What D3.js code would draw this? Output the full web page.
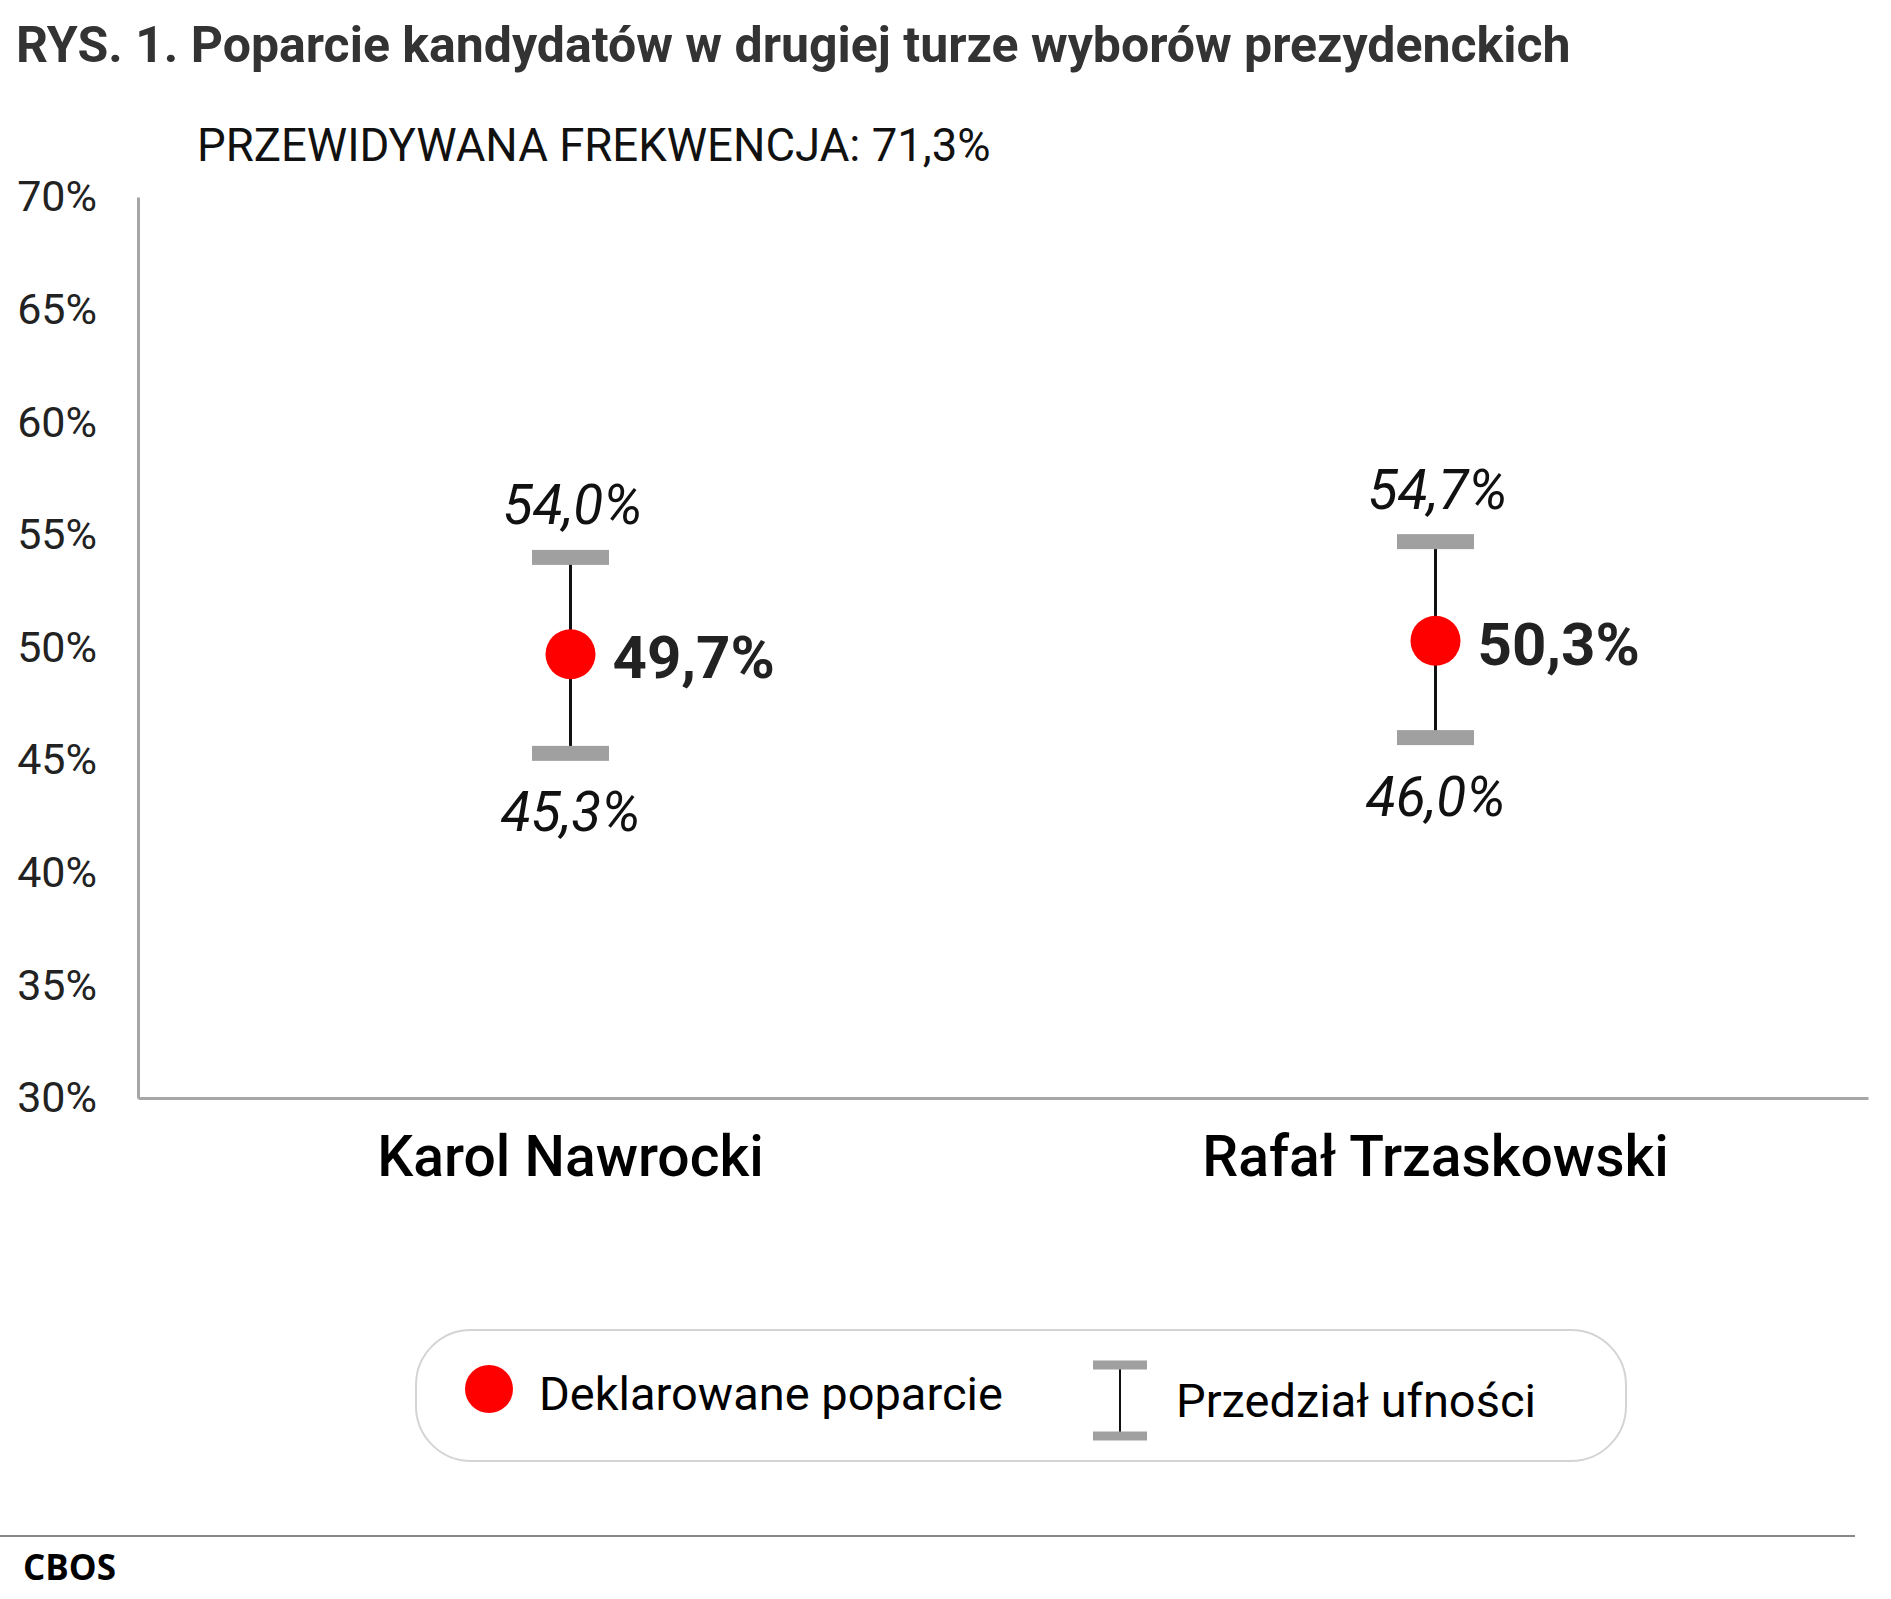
<!DOCTYPE html>
<html>
<head>
<meta charset="utf-8">
<script src="https://cdn.jsdelivr.net/npm/d3@7"></script>
<style>
  body { margin: 0; background: #fff; }
  text { font-family: Roboto, "Noto Sans", sans-serif; }
</style>
</head>
<body>
<div id="chart"></div>
<script>
// data
const candidates = ["Karol Nawrocki", "Rafał Trzaskowski"];
const support = [49.7, 50.3];
const lower = [45.3, 46.0];
const upper = [54.0, 54.7];
const yTicks = [30, 35, 40, 45, 50, 55, 60, 65, 70];
const legendLabels = ["Deklarowane poparcie", "Przedział ufności"];

const title = "RYS. 1. Poparcie kandydatów w drugiej turze wyborów prezydenckich";
const subtitle = "PRZEWIDYWANA FREKWENCJA: 71,3%";
const source = "CBOS";

const width = 1891;
const height = 1599;

const fmt = (v) => v.toFixed(1).replace(".", ",") + "%";

const svg = d3
  .select("#chart")
  .append("svg")
  .attr("width", width)
  .attr("height", height);

svg.append("rect").attr("width", width).attr("height", height).attr("fill", "#fff");

const margin = { left: 138, right: 23, top: 197, bottom: 501 };

const x = d3
  .scaleBand()
  .domain(candidates)
  .range([margin.left, width - margin.right]);

const y = d3
  .scaleLinear()
  .domain([30, 70])
  .range([height - margin.bottom, margin.top]);

// title + subtitle
svg
  .append("text")
  .attr("x", 16)
  .attr("y", 62)
  .attr("fill", "#333")
  .style("font-size", "50px")
  .style("font-weight", 700)
  .text(title);

svg
  .append("text")
  .attr("x", 197)
  .attr("y", 161)
  .attr("fill", "#111")
  .style("font-size", "45.5px")
  .text(subtitle);

// y axis: line + labels, no tick marks
const yAxis = svg
  .append("g")
  .attr("transform", `translate(${margin.left},0)`)
  .call(
    d3
      .axisLeft(y)
      .tickValues(yTicks)
      .tickSize(0)
      .tickPadding(41)
      .tickFormat((d) => d + "%")
  );
yAxis.select(".domain").attr("stroke", "#a6a6a6").attr("stroke-width", 3);
yAxis
  .selectAll("text")
  .attr("fill", "#222")
  .attr("dy", "0.32em")
  .style("font-size", "43px")
  .style("font-family", "Roboto");

// x axis
const xAxis = svg
  .append("g")
  .attr("transform", `translate(0,${y(30)})`)
  .call(d3.axisBottom(x).tickSize(0).tickPadding(38));
xAxis.select(".domain").attr("stroke", "#a6a6a6").attr("stroke-width", 3);
xAxis
  .selectAll("text")
  .attr("fill", "#000")
  .attr("dy", "0.71em")
  .style("font-size", "57px")
  .style("font-weight", 500)
  .style("font-family", "Roboto");

// error bars
const rows = candidates.map((c, i) => ({
  name: c,
  value: support[i],
  lo: lower[i],
  hi: upper[i],
}));
const cx = (d) => x(d.name) + x.bandwidth() / 2;
const capW = 77;
const capH = 15;

const g = svg.append("g");

g.selectAll(".stem")
  .data(rows)
  .enter()
  .append("line")
  .attr("x1", cx)
  .attr("x2", cx)
  .attr("y1", (d) => y(d.hi))
  .attr("y2", (d) => y(d.lo))
  .attr("stroke", "#111")
  .attr("stroke-width", 3);

g.selectAll(".cap")
  .data(rows.flatMap((d) => [{ name: d.name, v: d.hi }, { name: d.name, v: d.lo }]))
  .enter()
  .append("rect")
  .attr("x", (d) => cx(d) - capW / 2)
  .attr("y", (d) => y(d.v) - capH / 2)
  .attr("width", capW)
  .attr("height", capH)
  .attr("fill", "#a0a0a0");

g.selectAll(".dot")
  .data(rows)
  .enter()
  .append("circle")
  .attr("cx", cx)
  .attr("cy", (d) => y(d.value))
  .attr("r", 25)
  .attr("fill", "#ff0000");

// value labels
g.selectAll(".hiLabel")
  .data(rows)
  .enter()
  .append("text")
  .attr("x", (d) => cx(d) + 2)
  .attr("y", (d) => y(d.hi) - 33)
  .attr("text-anchor", "middle")
  .attr("fill", "#111")
  .style("font-size", "55px")
  .style("font-style", "italic")
  .text((d) => fmt(d.hi));

g.selectAll(".loLabel")
  .data(rows)
  .enter()
  .append("text")
  .attr("x", (d) => cx(d))
  .attr("y", (d) => y(d.lo) + 78)
  .attr("text-anchor", "middle")
  .attr("fill", "#111")
  .style("font-size", "55px")
  .style("font-style", "italic")
  .text((d) => fmt(d.lo));

g.selectAll(".valLabel")
  .data(rows)
  .enter()
  .append("text")
  .attr("x", (d) => cx(d) + 42)
  .attr("y", (d) => y(d.value) + 24)
  .attr("fill", "#222")
  .style("font-size", "60px")
  .style("font-weight", 700)
  .text((d) => fmt(d.value));

// legend
const legend = svg.append("g");
legend
  .append("rect")
  .attr("x", 416)
  .attr("y", 1330)
  .attr("width", 1210)
  .attr("height", 131)
  .attr("rx", 55)
  .attr("ry", 55)
  .attr("fill", "#fff")
  .attr("stroke", "#d4d4d4")
  .attr("stroke-width", 2);

legend
  .append("circle")
  .attr("cx", 489)
  .attr("cy", 1389)
  .attr("r", 24)
  .attr("fill", "#ff0000");

legend
  .append("text")
  .attr("x", 539)
  .attr("y", 1410)
  .attr("fill", "#000")
  .style("font-size", "47px")
  .text(legendLabels[0]);

legend
  .append("line")
  .attr("x1", 1120)
  .attr("x2", 1120)
  .attr("y1", 1365)
  .attr("y2", 1436)
  .attr("stroke", "#111")
  .attr("stroke-width", 2);

legend
  .selectAll(".lcap")
  .data([1365, 1436])
  .enter()
  .append("rect")
  .attr("x", 1093)
  .attr("y", (d) => d - 4.5)
  .attr("width", 54)
  .attr("height", 9)
  .attr("fill", "#a0a0a0");

legend
  .append("text")
  .attr("x", 1176)
  .attr("y", 1417)
  .attr("fill", "#000")
  .style("font-size", "47px")
  .text(legendLabels[1]);

// footer
svg
  .append("line")
  .attr("x1", 0)
  .attr("x2", 1855)
  .attr("y1", 1536)
  .attr("y2", 1536)
  .attr("stroke", "#888")
  .attr("stroke-width", 2);

svg
  .append("text")
  .attr("x", 23)
  .attr("y", 1580)
  .attr("fill", "#000")
  .style("font-family", "'Open Sans', sans-serif")
  .style("font-size", "35px")
  .style("font-weight", 700)
  .text(source);
</script>
</body>
</html>
